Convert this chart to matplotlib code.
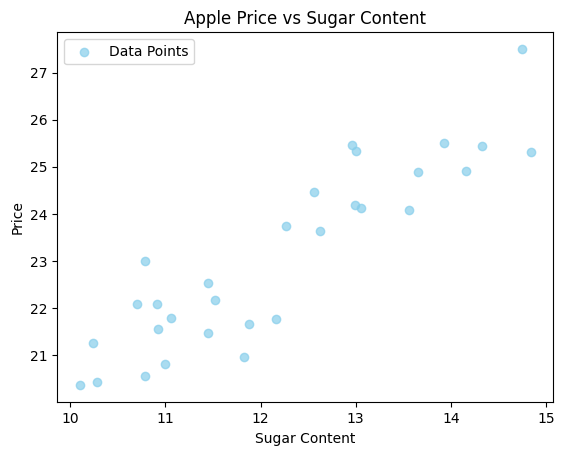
import matplotlib
matplotlib.use("Agg")
import matplotlib.pyplot as plt

sugar = [10.10, 10.28, 10.24, 10.78, 10.70, 10.91, 10.92, 11.06, 10.78, 11.00,
         11.45, 11.52, 11.45, 11.88, 11.83, 12.16, 12.27, 12.56,
         12.62, 12.96, 13.00, 12.99, 13.06, 13.56, 13.65, 13.93, 14.16, 14.33, 14.75, 14.84]
price = [20.36, 20.43, 21.27, 23.01, 22.10, 22.10, 21.55, 21.79, 20.57, 20.82,
         22.53, 22.17, 21.47, 21.66, 20.97, 21.77, 23.74, 24.46,
         23.64, 25.46, 25.33, 24.19, 24.12, 24.08, 24.89, 25.50, 24.91, 25.44, 27.50, 25.31]

fig = plt.figure(figsize=(5.63, 4.55), dpi=100)
ax = fig.add_axes([0.1018, 0.1158, 0.881, 0.8132])
ax.scatter(sugar, price, color="skyblue", alpha=0.7, label="Data Points")
ax.set_title("Apple Price vs Sugar Content")
ax.set_xlabel("Sugar Content")
ax.set_ylabel("Price")
ax.legend(loc="upper left")
fig.savefig("out.png", dpi=100)
